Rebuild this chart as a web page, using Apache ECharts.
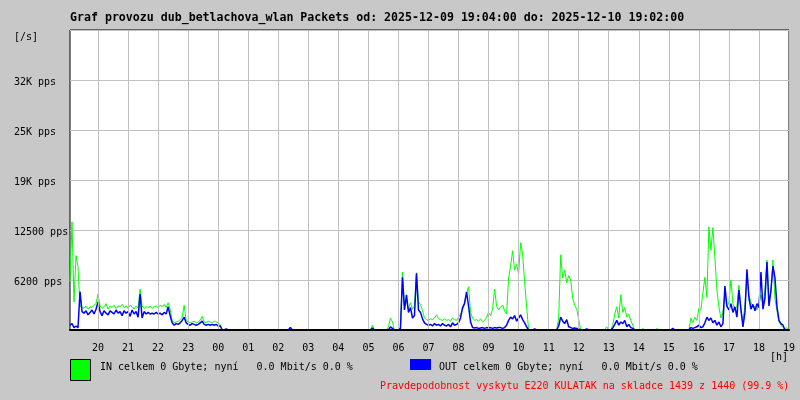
<!DOCTYPE html>
<html>
<head>
<meta charset="utf-8">
<script src="https://cdn.jsdelivr.net/npm/echarts@6/dist/echarts.min.js"></script>
<style>
html,body{margin:0;padding:0;background:#c8c8c8;}
#chart{width:800px;height:400px;}
</style>
</head>
<body>
<div id="chart"></div>
<script>
// 4-minute samples starting 2025-12-09 19:04
const startMinutes = 19 * 60 + 4;
const stepMinutes = 4;

const inPackets = [
6000,13500,3500,9300,7900,3000,2900,2700,3000,2600,
2900,2800,3100,3300,4500,3000,2700,2900,3300,2600,
3000,2800,3100,2700,3000,2900,3200,2800,3000,2700,
3100,2900,2600,3000,2800,5100,3000,2700,2900,2800,
3000,2700,2900,3000,2800,3100,2900,3200,2800,3400,
2600,1200,900,1000,1100,1300,1600,3100,1200,1000,
900,1000,1100,900,1000,1200,1700,1000,900,1100,
1000,900,1100,1000,900,700,0,0,0,0,
0,0,0,0,0,0,0,0,0,0,
0,0,0,0,0,0,0,0,0,0,
0,0,0,0,0,0,0,0,0,0,
0,0,0,0,0,0,0,0,0,0,
0,0,0,0,0,0,0,0,0,0,
0,0,0,0,0,0,0,0,0,0,
0,0,0,0,0,0,0,0,0,0,
0,600,0,0,0,0,0,0,0,400,
1500,1000,0,0,0,300,7250,3000,3500,2700,
3400,2600,3000,7150,3500,3200,2400,1500,1300,1200,
1400,1300,1500,1900,1400,1300,1200,1400,1200,1300,
1100,1500,1300,1200,1600,2000,2500,3500,4500,5400,
2200,1500,1200,1300,1100,1400,1000,1200,1600,2200,
1800,2600,5100,3000,2500,2900,3100,2400,2000,6500,
8000,9900,7500,8200,7000,10900,9500,6000,2900,0,
0,0,0,0,0,0,0,0,0,0,
0,0,0,0,1500,9400,6500,7500,5900,6800,
6250,4000,3100,2600,1300,0,0,0,0,0,
0,0,0,0,0,0,0,0,400,0,
0,600,2000,2900,1500,4400,2200,2800,1600,2000,
1200,600,0,0,0,0,200,0,0,0,
0,0,0,200,0,0,0,0,0,0,
0,0,0,0,0,0,0,0,0,0,
1500,900,1600,1200,2700,2500,4600,6600,4100,12900,
10000,12800,9000,5000,2900,1500,2200,4400,2800,3500,
6250,3300,2500,3000,5600,2300,1200,3000,6400,4300,
3500,2800,3000,2500,3200,4400,3000,5000,8750,3500,
4800,8750,3800,2400,1000,600,300,100,300,0
];

const outPackets = [
600,800,300,500,300,4800,2300,2100,2400,1900,
2200,2500,2000,2600,3500,2300,1800,2400,2100,1900,
2400,2200,2000,2500,2100,2300,1800,2400,2100,2300,
1700,2500,2000,2300,1600,4500,1500,2300,2000,2200,
2000,2100,2000,2200,2000,2100,1900,2200,2000,2900,
1800,900,600,800,700,900,1200,1600,900,700,
600,800,700,600,700,900,1100,700,600,700,
600,700,600,700,500,500,0,0,150,0,
0,0,0,0,0,0,0,0,0,0,
0,0,0,0,0,0,0,0,0,0,
0,0,0,0,0,0,0,0,0,0,
300,0,0,0,0,0,0,0,0,0,
0,0,0,0,0,0,0,0,0,0,
0,0,0,0,0,0,0,0,0,0,
0,0,0,0,0,0,0,0,0,0,
0,250,0,0,0,0,0,0,0,0,
400,200,0,0,0,200,6600,2500,4400,2200,
2800,1500,1800,7100,2500,2200,1400,900,700,600,
700,500,800,600,700,500,800,600,500,700,
400,900,600,700,900,1500,2800,3300,4750,3000,
1000,300,250,300,200,250,300,200,300,250,
300,200,300,250,300,300,200,300,600,1200,
1600,1400,1800,1100,1500,1900,1300,900,400,0,
0,0,150,0,0,0,0,0,0,0,
0,0,0,0,500,1600,1100,800,1300,400,
300,200,250,200,150,0,0,0,150,0,
0,0,0,0,0,0,0,0,0,0,
0,250,700,1200,600,1000,800,1200,400,700,
300,200,0,0,0,0,0,0,0,0,
0,0,0,0,0,0,0,0,0,0,
0,200,0,0,0,0,0,0,0,0,
300,200,300,400,600,300,400,900,1600,1200,
1500,900,1200,600,1000,400,800,5500,3000,2500,
3300,2200,2900,1600,5000,2600,400,2200,7600,4000,
2600,3200,2400,3300,2800,7250,2600,4000,8500,3000,
5000,8000,6500,2900,1200,800,600,0,0,0
];

const yTickLabels = ['', '6200 pps', '12500 pps', '19K pps', '25K pps', '32K pps', ''];
const yMax = 37500;
const yStep = 6250;

const titleText = 'Graf provozu dub_betlachova_wlan Packets od: 2025-12-09 19:04:00 do: 2025-12-10 19:02:00';
const inLegendText = 'IN celkem 0 Gbyte; nyní   0.0 Mbit/s 0.0 %';
const outLegendText = 'OUT celkem 0 Gbyte; nyní   0.0 Mbit/s 0.0 %';
const noteText = 'Pravdepodobnost vyskytu E220 KULATAK na skladce 1439 z 1440 (99.9 %)';

function pad(n){ return (n < 10 ? '0' : '') + n; }
const categories = inPackets.map(function(_, i){
  const m = (startMinutes + i * stepMinutes) % 1440;
  return pad(Math.floor(m / 60)) + ':' + pad(m % 60);
});
const isHour = function(index, value){ return String(value).slice(3) === '00'; };

const mono = 'DejaVu Sans Mono';
const chart = echarts.init(document.getElementById('chart'), null, {renderer: 'canvas'});
chart.setOption({
  animation: false,
  backgroundColor: '#c8c8c8',
  textStyle: {fontFamily: mono},
  grid: {left: 70, top: 30, width: 719, height: 300, show: true, backgroundColor: '#ffffff', borderColor: '#000000', borderWidth: 1, containLabel: false},
  xAxis: {
    type: 'category', data: categories, boundaryGap: false, z: 10,
    axisLine: {lineStyle: {color: '#000000', width: 2}},
    axisTick: {show: false},
    axisLabel: {interval: isHour, color: '#000000', fontFamily: mono, fontSize: 10, margin: 13,
      formatter: function(v){ return v.slice(0, 2); }},
    splitLine: {show: true, interval: isHour, lineStyle: {color: '#c0c0c0', width: 1}}
  },
  yAxis: {
    type: 'value', min: 0, max: yMax, interval: yStep,
    axisLine: {show: false}, axisTick: {show: false},
    axisLabel: {align: 'left', verticalAlign: 'top', lineHeight: 5, margin: 56, color: '#000000', fontFamily: mono, fontSize: 10,
      formatter: function(v){ return yTickLabels[Math.round(v / yStep)] || ''; }},
    splitLine: {show: true, lineStyle: {color: '#c0c0c0', width: 1}}
  },
  series: [
    {type: 'line', data: inPackets, symbol: 'none', lineStyle: {color: '#00ff00', width: 1}, itemStyle: {color: '#00ff00'}, z: 2},
    {type: 'line', data: outPackets, symbol: 'none', lineStyle: {color: '#0000ff', width: 1.5}, itemStyle: {color: '#0000ff'}, z: 3}
  ],
  graphic: [
    {type: 'text', left: 70, top: 12, style: {text: titleText, font: 'bold 11.6px "DejaVu Sans Mono"', fill: '#000000'}},
    {type: 'text', left: 14, top: 32, style: {text: '[/s]', font: '10px "DejaVu Sans Mono"', fill: '#000000'}},
    {type: 'text', left: 770, top: 352, style: {text: '[h]', font: '10px "DejaVu Sans Mono"', fill: '#000000'}},
    {type: 'rect', shape: {x: 70.5, y: 359.5, width: 20, height: 21}, style: {fill: '#00ff00', stroke: '#000000', lineWidth: 1}},
    {type: 'text', left: 100, top: 362, style: {text: inLegendText, font: '10px "DejaVu Sans Mono"', fill: '#000000'}},
    {type: 'rect', shape: {x: 410, y: 359, width: 21, height: 11}, style: {fill: '#0000ff'}},
    {type: 'text', left: 439, top: 362, style: {text: outLegendText, font: '10px "DejaVu Sans Mono"', fill: '#000000'}},
    {type: 'text', left: 380, top: 381, style: {text: noteText, font: '10px "DejaVu Sans Mono"', fill: '#ff0000'}}
  ]
});
</script>
</body>
</html>
